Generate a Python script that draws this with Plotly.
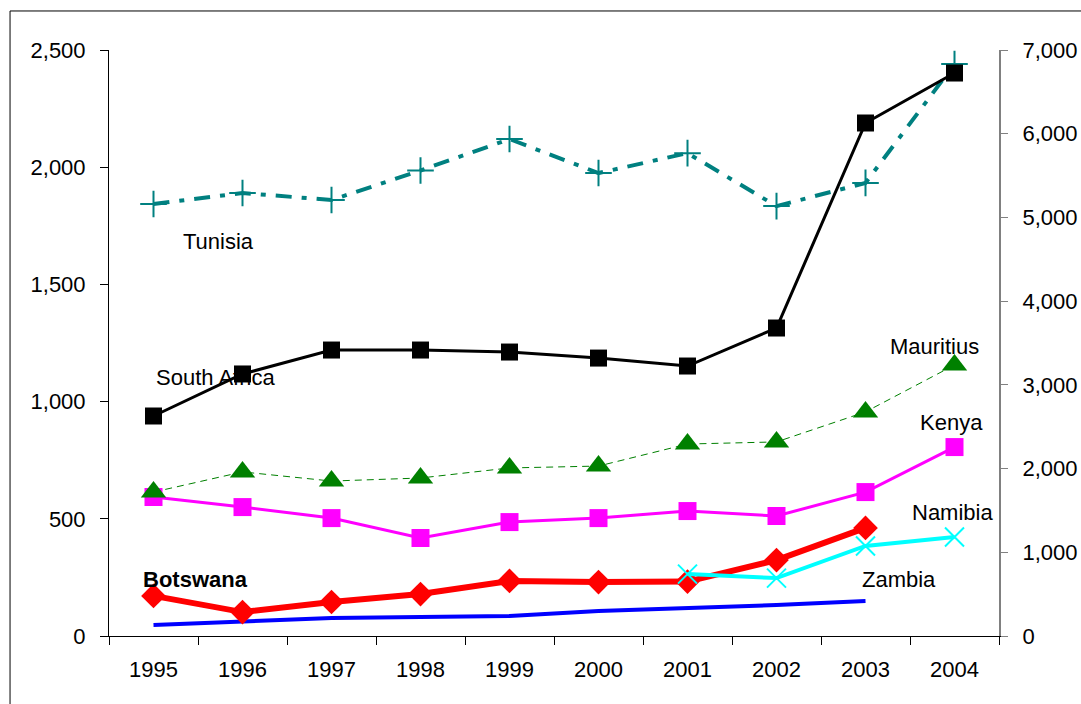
import plotly.graph_objects as go

years = ["1995", "1996", "1997", "1998", "1999", "2000", "2001", "2002", "2003", "2004"]

# left axis (US$ million)
tunisia = [1843, 1890, 1860, 1986, 2120, 1975, 2060, 1834, 1933, 2440]
mauritius = [614, 700, 661, 674, 717, 725, 819, 828, 956, 1156]
kenya = [593, 550, 503, 418, 486, 503, 533, 512, 614, 806]
botswana = [171, 102, 145, 179, 235, 230, 232, 324, 461, None]
namibia = [None, None, None, None, None, None, 264, 247, 384, 422]
zambia = [47, 60, 77, 81, 85, 107, 119, 132, 149, None]
# right axis
south_africa = [2628, 3130, 3416, 3416, 3392, 3320, 3225, 3679, 6128, 6725]

FONT = "Liberation Sans, Arial, sans-serif"
fig = go.Figure()

fig.add_trace(go.Scatter(x=years, y=zambia, mode="lines", line=dict(color="#0000FF", width=4)))
fig.add_trace(go.Scatter(x=years, y=botswana, mode="lines+markers", line=dict(color="#FF0000", width=6),
                         marker=dict(symbol="diamond", size=19, color="#FF0000")))
fig.add_trace(go.Scatter(x=years, y=namibia, mode="lines+markers", line=dict(color="#00FFFF", width=4),
                         marker=dict(symbol="x-thin", size=19, line=dict(color="#00FFFF", width=2))))
fig.add_trace(go.Scatter(x=years, y=kenya, mode="lines+markers", line=dict(color="#FF00FF", width=3),
                         marker=dict(symbol="square", size=18, color="#FF00FF")))
fig.add_trace(go.Scatter(x=years, y=mauritius, mode="lines+markers", line=dict(color="#008000", width=1, dash="7px,5px"),
                         marker=dict(symbol="triangle-up", size=22, color="#008000")))
fig.add_trace(go.Scatter(x=years, y=tunisia, mode="lines+markers",
                         line=dict(color="#008080", width=4, dash="16px,10px,5px,10px"),
                         marker=dict(symbol="cross-thin", size=19, line=dict(color="#008080", width=2))))
fig.add_trace(go.Scatter(x=years, y=south_africa, yaxis="y2", mode="lines+markers", line=dict(color="#000000", width=3),
                         marker=dict(symbol="square", size=17, color="#000000")))

labels = [
    ("Tunisia", 0.73, 1681, False),
    ("South Africa", 0.70, 1101, False),
    ("Mauritius", 8.78, 1237, False),
    ("Kenya", 8.97, 909, False),
    ("Namibia", 8.98, 529, False),
    ("Zambia", 8.38, 243, False),
    ("Botswana", 0.47, 243, True),
]
for txt, xx, yy, bold in labels:
    fig.add_annotation(x=xx, y=yy, xref="x", yref="y", text=f"<b>{txt}</b>" if bold else txt,
                       showarrow=False, font=dict(family=FONT, size=22, color="black"))

fig.add_shape(type="rect", xref="paper", yref="paper", x0=-0.1112, y0=-0.3, x1=1.3, y1=1.0666,
              line=dict(color="black", width=1), layer="below")

fig.update_layout(
    width=1081, height=704,
    margin=dict(l=109, r=82, t=50, b=68, autoexpand=False),
    paper_bgcolor="white", plot_bgcolor="white",
    showlegend=False, hovermode=False,
    font=dict(family=FONT, size=22, color="black"),
    xaxis=dict(type="category", range=[-0.5, 9.5], tickson="boundaries", ticks="outside", ticklen=8,
               tickcolor="black", showline=True, linecolor="black", linewidth=1, showgrid=False,
               zeroline=False, ticklabelstandoff=14, tickfont=dict(size=22), automargin=False),
    yaxis=dict(range=[0, 2500], dtick=500, tickformat=",", ticks="outside", ticklen=8, tickcolor="black",
               showline=True, linecolor="black", linewidth=1, showgrid=False, zeroline=False,
               ticklabelstandoff=10, tickfont=dict(size=22), automargin=False),
    yaxis2=dict(range=[0, 7000], dtick=1000, tickformat=",", overlaying="y", side="right", ticks="outside",
                ticklen=7, tickcolor="#808080", showline=True, linecolor="#808080", linewidth=2,
                showgrid=False, zeroline=False, ticklabelstandoff=10, tickfont=dict(size=22), automargin=False),
)

fig.write_html("out.html", config={"displayModeBar": False},
               post_script="document.body.style.margin='0';document.body.style.overflow='hidden';")
